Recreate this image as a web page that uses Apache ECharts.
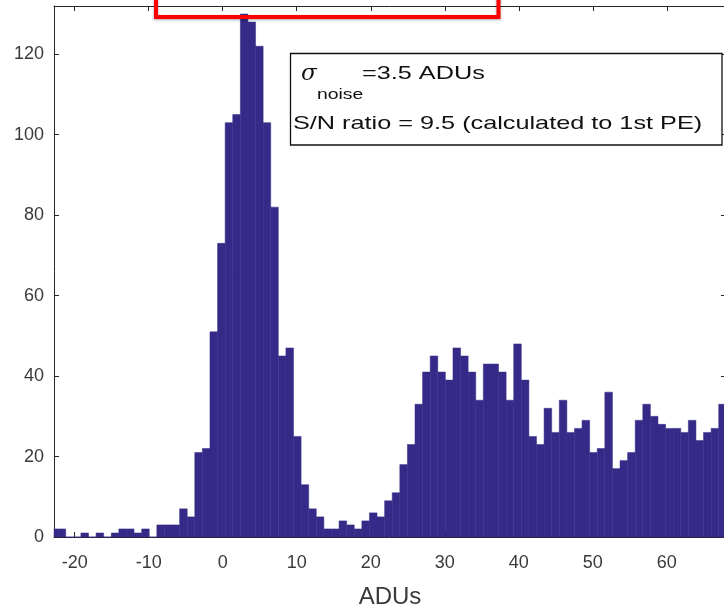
<!DOCTYPE html>
<html>
<head>
<meta charset="utf-8">
<script src="https://cdn.jsdelivr.net/npm/echarts@6/dist/echarts.min.js"></script>
<style>
html,body{margin:0;padding:0;background:#fff;}
#chart{width:724px;height:606px;}
</style>
</head>
<body>
<div id="chart"></div>
<script>
// Histogram bins (uniform width, in ADUs)
const BIN_START = -23.27;
const BIN_WIDTH = 1.026;
const counts = [2,2,0,0,1,0,1,0,1,2,2,1,2,0,3,3,3,7,5,21,22,51,73,103,105,130,128,122,103,82,45,47,
  25,13,7,5,2,2,4,3,2,4,6,5,9,11,18,23,33,41,45,41,39,47,45,41,34,43,43,41,34,48,
  39,25,23,32,26,34,26,27,29,21,22,36,17,19,21,29,33,30,28,27,27,26,29,24,26,27,33];
const xTicks = [-20,-10,0,10,20,30,40,50,60];
const yTicks = [0,20,40,60,80,100,120];
const xName = 'ADUs';
const noteLine1Main = '=3.5 ADUs';
const noteSigma = 'σ';
const noteSub = 'noise';
const noteLine2 = 'S/N ratio = 9.5 (calculated to 1st PE)';

const BAR_COLOR = '#352A87';
const AXIS_COLOR = '#262626';
const FONT = '"Liberation Sans", Arial, Helvetica, sans-serif';

const data = counts.map((c, i) => [BIN_START + i * BIN_WIDTH, BIN_START + (i + 1) * BIN_WIDTH, c]);

const chart = echarts.init(document.getElementById('chart'), null, {renderer: 'canvas'});

const axisCommonX = {
  type: 'value', min: -22.8, max: 68,
  axisLine: {show: true, onZero: false, lineStyle: {color: AXIS_COLOR, width: 1}},
  axisTick: {show: true, inside: true, length: 5, customValues: xTicks, lineStyle: {color: AXIS_COLOR}},
  splitLine: {show: false}
};
const axisCommonY = {
  type: 'value', min: 0, max: 132,
  axisLine: {show: true, onZero: false, lineStyle: {color: AXIS_COLOR, width: 1}},
  axisTick: {show: true, inside: true, length: 5, customValues: yTicks, lineStyle: {color: AXIS_COLOR}},
  splitLine: {show: false}
};

const option = {
  animation: false,
  backgroundColor: '#ffffff',
  textStyle: {fontFamily: FONT},
  grid: {left: 54, top: 6, width: 672, height: 531, containLabel: false, outerBoundsMode: 'none'},
  xAxis: [
    Object.assign({}, axisCommonX, {
      position: 'bottom',
      axisLabel: {show: true, customValues: xTicks, fontSize: 18, color: '#3a3a3a', margin: 17, fontFamily: FONT},
      name: xName, nameLocation: 'middle', nameGap: 48,
      nameTextStyle: {fontSize: 24, color: '#3a3a3a', fontFamily: FONT}
    }),
    Object.assign({}, axisCommonX, {position: 'top', axisLabel: {show: false}})
  ],
  yAxis: [
    Object.assign({}, axisCommonY, {
      position: 'left',
      axisLabel: {show: true, customValues: yTicks, fontSize: 18, color: '#3a3a3a', margin: 10, fontFamily: FONT}
    }),
    Object.assign({}, axisCommonY, {position: 'right', axisLabel: {show: false}})
  ],
  series: [{
    type: 'custom',
    xAxisIndex: 0, yAxisIndex: 0,
    data: data,
    encode: {x: [0, 1], y: 2},
    renderItem: function (params, api) {
      const p0 = api.coord([api.value(0), 0]);
      const p1 = api.coord([api.value(1), api.value(2)]);
      const rect = echarts.graphic.clipRectByRect({
        x: p0[0], y: p1[1], width: p1[0] - p0[0], height: p0[1] - p1[1]
      }, {
        x: params.coordSys.x, y: params.coordSys.y,
        width: params.coordSys.width, height: params.coordSys.height
      });
      if (!rect) return null;
      return {type: 'rect', shape: rect, style: {fill: BAR_COLOR, stroke: BAR_COLOR, lineWidth: 0.5}};
    },
    z: 1
  }],
  graphic: [
    {
      type: 'rect', z: 100,
      shape: {x: 290.5, y: 53.5, width: 431.5, height: 91.5},
      style: {fill: '#ffffff', stroke: '#111111', lineWidth: 1.3}
    },
    {
      type: 'text', z: 101, x: 301, y: 74,
      style: {text: noteSigma, fontSize: 23, fontStyle: 'italic', fontFamily: '"DejaVu Serif", "Liberation Serif", serif', fill: '#111', verticalAlign: 'middle', align: 'left'}
    },
    {
      type: 'text', z: 101, x: 317, y: 95, scaleX: 1.25,
      style: {text: noteSub, fontSize: 15.5, fontFamily: FONT, fill: '#111', verticalAlign: 'middle', align: 'left'}
    },
    {
      type: 'text', z: 101, x: 362, y: 74, scaleX: 1.365,
      style: {text: noteLine1Main, fontSize: 18.5, fontFamily: FONT, fill: '#111', verticalAlign: 'middle', align: 'left'}
    },
    {
      type: 'text', z: 101, x: 293, y: 123.5, scaleX: 1.365,
      style: {text: noteLine2, fontSize: 18.5, fontFamily: FONT, fill: '#111', verticalAlign: 'middle', align: 'left'}
    },
    {
      type: 'rect', z: 102,
      shape: {x: 156, y: -10, width: 342.5, height: 27},
      style: {fill: 'none', stroke: '#ff0000', lineWidth: 4, shadowBlur: 3, shadowColor: 'rgba(0,0,0,0.35)', shadowOffsetY: 1}
    }
  ]
};
chart.setOption(option);
</script>
</body>
</html>
